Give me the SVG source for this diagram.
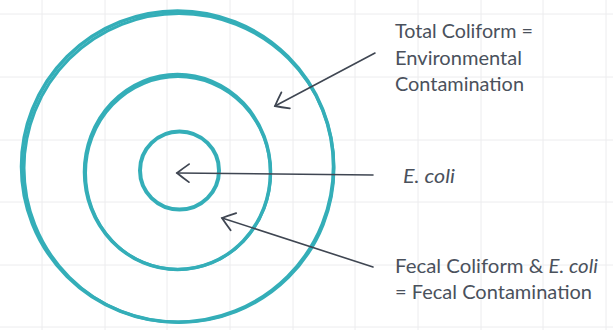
<svg xmlns="http://www.w3.org/2000/svg" width="613" height="330" viewBox="0 0 613 330">
<defs>
<style>
.grid line{stroke:#ececee;stroke-width:1}
.ring{fill:none;stroke:#34aeb8}
.conn{fill:none;stroke:#3f4652;stroke-width:1.6;stroke-linecap:round}
.lbl{font-family:Lato,"Open Sans",sans-serif;font-size:19px;fill:#4a515c}
</style>
<marker id="ah" markerWidth="20" markerHeight="24" refX="14" refY="12" orient="auto" markerUnits="userSpaceOnUse">
<path d="M2,3 Q9,8 14,12 Q9,16 2,21" fill="none" stroke="#3f4652" stroke-width="1.8" stroke-linecap="round"/>
</marker>
</defs>
<rect width="613" height="330" fill="#ffffff"/>
<g class="grid">
<line x1="42" y1="0" x2="42" y2="330"/><line x1="105" y1="0" x2="105" y2="330"/><line x1="167" y1="0" x2="167" y2="330"/><line x1="230" y1="0" x2="230" y2="330"/><line x1="293" y1="0" x2="293" y2="330"/><line x1="355" y1="0" x2="355" y2="330"/><line x1="418" y1="0" x2="418" y2="330"/><line x1="481" y1="0" x2="481" y2="330"/><line x1="543" y1="0" x2="543" y2="330"/><line x1="606" y1="0" x2="606" y2="330"/>
<line x1="0" y1="14" x2="613" y2="14"/><line x1="0" y1="77" x2="613" y2="77"/><line x1="0" y1="140" x2="613" y2="140"/><line x1="0" y1="202" x2="613" y2="202"/><line x1="0" y1="265" x2="613" y2="265"/><line x1="0" y1="327" x2="613" y2="327"/>
</g>
<g id="outer-ring">
<ellipse class="ring" cx="177.5" cy="166.5" rx="156" ry="155.5" stroke-width="3.5"/>
<ellipse class="ring" cx="179" cy="168" rx="155" ry="154.5" stroke-width="3"/>
</g>
<g id="middle-ring">
<ellipse class="ring" cx="177.5" cy="172" rx="93" ry="97.5" stroke-width="3.5"/>
<ellipse class="ring" cx="178" cy="173" rx="92.5" ry="96.5" stroke-width="3"/>
</g>
<g id="inner-ring">
<ellipse class="ring" cx="179.5" cy="170.5" rx="39.5" ry="39" stroke-width="4"/>
</g>
<g id="connectors">
<line class="conn" x1="375" y1="53" x2="275" y2="106" marker-end="url(#ah)"/>
<line class="conn" x1="373" y1="175" x2="177" y2="173" marker-end="url(#ah)"/>
<line class="conn" x1="373" y1="267" x2="222" y2="218" marker-end="url(#ah)"/>
</g>
<g id="label-total">
<text class="lbl" x="395" y="38" textLength="138" lengthAdjust="spacingAndGlyphs">Total Coliform =</text>
<text class="lbl" x="395" y="64.5" textLength="127" lengthAdjust="spacingAndGlyphs">Environmental</text>
<text class="lbl" x="395" y="91" textLength="129" lengthAdjust="spacingAndGlyphs">Contamination</text>
</g>
<g id="label-ecoli">
<text class="lbl" x="403" y="183" font-style="italic" textLength="52" lengthAdjust="spacingAndGlyphs">E. coli</text>
</g>
<g id="label-fecal">
<text class="lbl" x="395" y="273" textLength="203" lengthAdjust="spacingAndGlyphs">Fecal Coliform &amp; <tspan font-style="italic">E. coli</tspan></text>
<text class="lbl" x="395" y="299" textLength="197" lengthAdjust="spacingAndGlyphs">= Fecal Contamination</text>
</g>
</svg>
